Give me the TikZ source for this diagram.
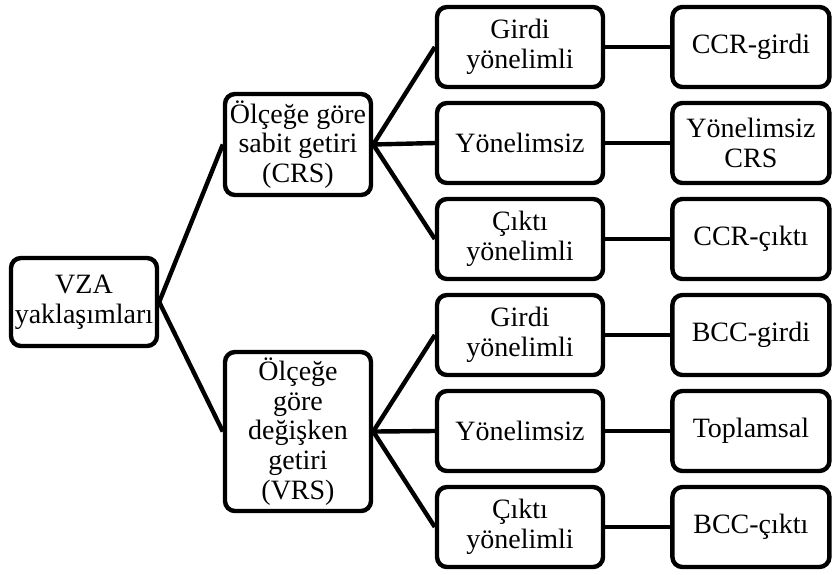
\documentclass[tikz,border=0pt]{standalone}
\usepackage{fontspec}
\setmainfont{Liberation Serif}
\usetikzlibrary{positioning}

\begin{document}
\begin{tikzpicture}[
		x=0.5pt, y=-0.5pt,
		basic/.style  = {draw, line width=2.2pt, rounded corners=5pt, align=center, inner sep=1pt, font=\fontsize{14}{14.8}\selectfont},
		root/.style   = {basic, minimum width=73pt, minimum height=44pt},
		grp/.style    = {basic, minimum width=73pt},
		orient/.style = {basic, minimum width=83pt, minimum height=40pt},
		model/.style  = {basic, minimum width=78.5pt, minimum height=40pt},
		conn/.style   = {draw, line width=2.2pt}]
		
		\useasboundingbox (0,0) rectangle (833,574);
		
		% root and the two return-to-scale groups
		\node[root] (vza) at (84,302) {VZA\\yaklaşımları};
		\node[grp, minimum height=50.5pt] (c1) at (298,144.5) {Ölçeğe göre\\sabit getiri\\(CRS)};
		\node[grp, minimum height=79.5pt] (c2) at (298,431.5) {Ölçeğe\\göre\\değişken\\getiri\\(VRS)};
		
		% orientations, one column
		\node[orient] (c11) at (520,47) {Girdi\\yönelimli};
		\node[orient] (c12) at (520,143) {Yönelimsiz};
		\node[orient] (c13) at (520,239) {Çıktı\\yönelimli};
		\node[orient] (c21) at (520,335) {Girdi\\yönelimli};
		\node[orient] (c22) at (520,431) {Yönelimsiz};
		\node[orient] (c23) at (520,527) {Çıktı\\yönelimli};
		
		% the models, relatively positioned nodes
		\begin{scope}[every node/.style={model}]
		\node [right=32.5pt of c11] (c111) {CCR-girdi};
		\node [right=32.5pt of c12] (c121) {Yönelimsiz\\CRS};
		\node [right=32.5pt of c13] (c131) {CCR-çıktı};
		\node [right=32.5pt of c21] (c211) {BCC-girdi};
		\node [right=32.5pt of c22] (c221) {Toplamsal};
		\node [right=32.5pt of c23] (c231) {BCC-çıktı};
		\end{scope}
		
		% lines between the levels
		\foreach \value in {1,2}
		\draw[conn] (vza.east) -- (c\value.west);
		
		\foreach \value in {1,2,3}
		\draw[conn] (c1.east) -- (c1\value.west);
		
		\foreach \value in {1,2,3}
		\draw[conn] (c2.east) -- (c2\value.west);
		
		\foreach \value in {11,12,13,21,22,23}
		\draw[conn] (c\value.east) -- (c\value1.west);
		
	\end{tikzpicture}
\end{document}
